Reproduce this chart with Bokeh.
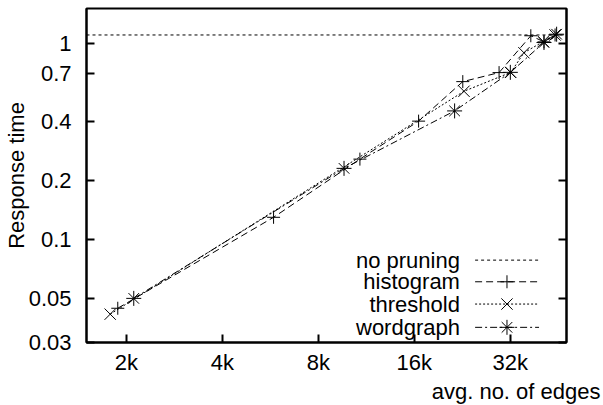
import math
from bokeh.plotting import figure
from bokeh.models import FixedTicker, LogAxis, Span, Title, CustomJSTickFormatter
from bokeh.embed import file_html
from bokeh.resources import INLINE
from bokeh.core.properties import value

# ---------------- data ----------------
x_ticks = [2000, 4000, 8000, 16000, 32000]
x_tick_labels = ["2k", "4k", "8k", "16k", "32k"]
y_ticks = [0.03, 0.05, 0.1, 0.2, 0.4, 0.7, 1]
y_tick_labels = ["0.03", "0.05", "0.1", "0.2", "0.4", "0.7", "1"]

no_pruning = 1.1

hist_x = [1880, 5790, 10800, 16500, 22700, 29500, 37100, 40800, 44200]
hist_y = [0.0448, 0.130, 0.257, 0.401, 0.637, 0.708, 1.09, 1.015, 1.10]

thr_x = [1780, 22900, 32100, 35300, 40600, 44200]
thr_y = [0.0418, 0.569, 0.710, 0.893, 1.019, 1.10]

wg_x = [2110, 9630, 21400, 32000, 40800, 44700]
wg_y = [0.0503, 0.2306, 0.452, 0.710, 1.007, 1.11]

series_names = ["no pruning", "histogram", "threshold", "wordgraph"]

# ---------------- style ----------------
X0, X1 = 1500, 48000
Y0, Y1 = 0.03, 1.5
FONT = "Liberation Sans"
FS = "22px"
W, H = 603, 405
BL, BR, BT, BB = 86, 37, 8, 63
dashes = {"no pruning": "3 3", "histogram": "7 4", "threshold": "2 2", "wordgraph": "7 3 2 3"}
markers = {"no pruning": None, "histogram": "cross", "threshold": "x", "wordgraph": "asterisk"}
msize = {"histogram": 13, "threshold": 16, "wordgraph": 15}

p = figure(width=W, height=H, x_axis_type="log", y_axis_type="log",
           x_range=(X0, X1), y_range=(Y0, Y1),
           output_backend="svg", toolbar_location=None,
           min_border_left=BL, min_border_right=BR, min_border_top=BT, min_border_bottom=BB)
p.grid.visible = False
p.outline_line_color = "black"
p.outline_line_width = 2
p.outline_line_alpha = 1
p.background_fill_color = "white"
p.border_fill_color = "white"


def fmt(ticks, labels):
    return CustomJSTickFormatter(args=dict(tv=ticks, tl=labels), code="""
        for (let i = 0; i < tv.length; i++) {
            if (Math.abs(tv[i] - tick) / tv[i] < 1e-6) return tl[i];
        }
        return '';
    """)


def style_axis(ax, ticks, labels, standoff):
    ax.ticker = FixedTicker(ticks=ticks)
    ax.formatter = fmt(ticks, labels)
    ax.axis_line_color = "black"
    ax.axis_line_width = 2
    ax.major_tick_line_color = "black"
    ax.major_tick_line_width = 2
    ax.major_tick_in = 8
    ax.major_tick_out = 0
    ax.minor_tick_line_color = None
    ax.major_label_text_font = FONT
    ax.major_label_text_font_size = FS
    ax.major_label_text_color = "black"
    ax.major_label_standoff = standoff


style_axis(p.xaxis[0], x_ticks, x_tick_labels, 7)
style_axis(p.yaxis[0], y_ticks, y_tick_labels, 15)
p.yaxis[0].axis_label = "Response time"
p.yaxis[0].axis_label_text_font = FONT
p.yaxis[0].axis_label_text_font_size = FS
p.yaxis[0].axis_label_text_font_style = "normal"
p.yaxis[0].axis_label_text_color = "black"
p.yaxis[0].axis_label_standoff = -3

# mirrored ticks on the right, no labels
ra = LogAxis()
style_axis(ra, y_ticks, [""] * len(y_ticks), 0)
ra.major_label_text_font_size = "1px"
p.add_layout(ra, "right")

# x-axis title, right aligned, extending past the frame
p.add_layout(Title(text="avg. no. of edges", align="right", offset=-34, standoff=-2,
                   text_font=FONT, text_font_size=FS, text_font_style="normal",
                   text_color="black"), "below")

# no pruning reference line
p.add_layout(Span(location=no_pruning, dimension="width", line_color="black",
                  line_width=1, line_dash=dashes["no pruning"]))

for name, xs, ys in [("histogram", hist_x, hist_y), ("threshold", thr_x, thr_y), ("wordgraph", wg_x, wg_y)]:
    p.line(xs, ys, line_color="black", line_width=1, line_dash=dashes[name])
    p.scatter(xs, ys, marker=markers[name], size=msize[name], line_color="black",
              fill_color=None, line_width=1)

# ---------------- legend (drawn inside frame, text left of sample) ----------------
lx0, lx1 = math.log10(X0), math.log10(X1)
ly0, ly1 = math.log10(Y0), math.log10(Y1)


def fx(f):
    return 10 ** (lx0 + f * (lx1 - lx0))


def fy(f):
    return 10 ** (ly0 + f * (ly1 - ly0))


rows = [0.2466, 0.1818, 0.1151, 0.0454]
text_f, s0, s1, sm = 0.778, 0.8096, 0.9428, 0.876

p.text(x=[fx(text_f)] * len(series_names), y=[fy(r) for r in rows], text=series_names,
       text_align="right", text_baseline="middle", text_font=value(FONT),
       text_font_size=value(FS), text_color="black")

for name, r in zip(series_names, rows):
    p.line([fx(s0), fx(s1)], [fy(r), fy(r)], line_color="black", line_width=1, line_dash=dashes[name])
    if markers[name]:
        p.scatter([fx(sm)], [fy(r)], marker=markers[name], size=msize[name], line_color="black",
                  fill_color=None, line_width=1)

open("out.html", "w").write(file_html(p, INLINE))
